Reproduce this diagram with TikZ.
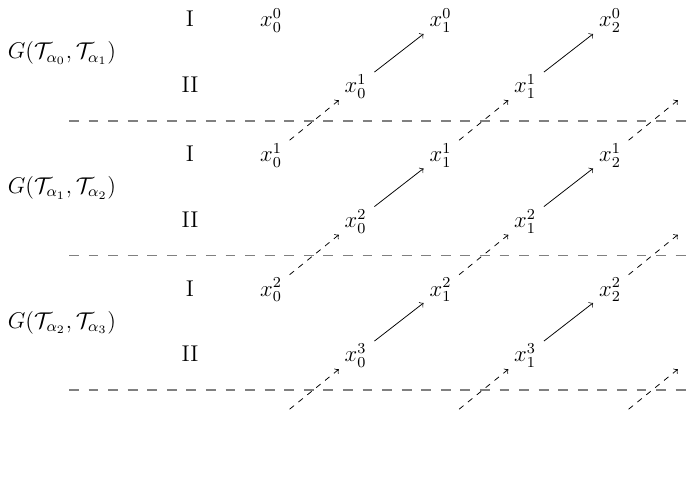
\documentclass[tikz,12pt,border=0pt]{standalone}
\usetikzlibrary{calc}
\begin{document}
\begin{tikzpicture}[x=0.5263pt,y=-0.5263pt,
  lbl/.style={anchor=base},
  pnt/.style={anchor=base},
  sepline/.style={draw=gray,line width=0.8pt,dash pattern=on 5.2pt off 5.1pt},
  flow/.style={->,shorten <=12.6pt,shorten >=11.3pt},
  back/.style={flow,dashed}]
\useasboundingbox (0,0) rectangle (695,477);
% separators
\foreach \k in {0,1,2}{
  \coordinate (sl\k) at (69,{121+134.5*\k});
  \coordinate (sr\k) at (695,{121+134.5*\k});
  \draw[sepline] (sl\k) -- (sr\k);
}
% blocks
\foreach \k [evaluate=\k as \oy using 134.5*\k, evaluate=\k as \kk using int(\k+1)] in {0,1,2}{
  \node[lbl] (g\k) at (62,{59+\oy}) {$G(\mathcal{T}_{\alpha_{\k}},\mathcal{T}_{\alpha_{\kk}})$};
  \node[lbl] (ra\k) at (190,{27+\oy}) {I};
  \node[lbl] (rb\k) at (190,{93+\oy}) {II};
  \foreach \j in {0,1,2}{
    \node[pnt] (a\k\j) at ({271+169.5*\j},{27+\oy}) {$x_{\j}^{\k}$};
  }
  \foreach \j in {0,1}{
    \node[pnt] (b\k\j) at ({355.5+169.5*\j},{93+\oy}) {$x_{\j}^{\kk}$};
  }
  \coordinate (b\k2) at ([xshift=89.21pt]b\k1.center);
}
\foreach \j in {0,1,2}{
  \coordinate (a3\j) at ([yshift=-70.79pt]a2\j.center);
}
% solid arrows
\foreach \k in {0,1,2}{
  \foreach \j/\jj in {0/1,1/2}{
    \draw[flow] (b\k\j.center) -- (a\k\jj.center);
  }
}
% dashed arrows
\foreach \k [evaluate=\k as \kk using int(\k+1)] in {0,1,2}{
  \foreach \j in {0,1,2}{
    \draw[back] (a\kk\j.center) -- (b\k\j.center);
  }
}
\end{tikzpicture}
\end{document}
